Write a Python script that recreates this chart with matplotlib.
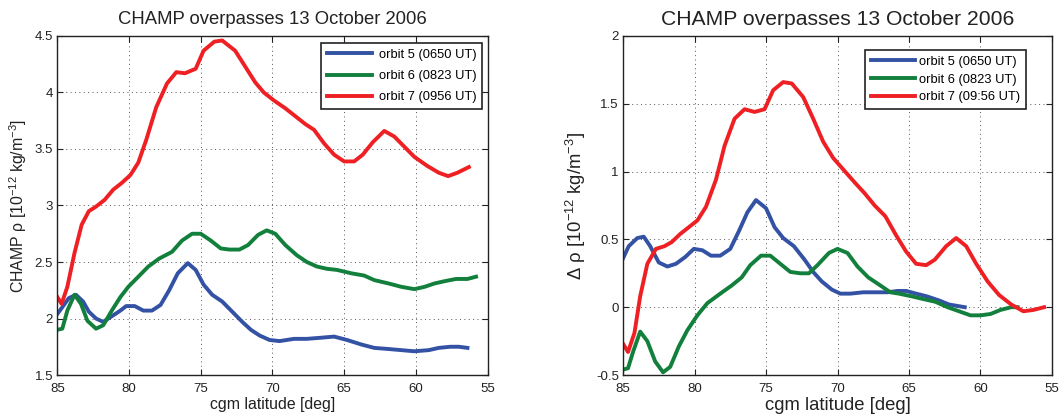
import matplotlib
matplotlib.use("Agg")
import matplotlib.pyplot as plt
import numpy as np

plt.rcParams["font.family"] = ["Liberation Sans", "DejaVu Sans"]
plt.rcParams["mathtext.fontset"] = "custom"
plt.rcParams["mathtext.rm"] = "Liberation Sans"
plt.rcParams["mathtext.default"] = "regular"
plt.rcParams["axes.unicode_minus"] = False

# ---------------------------
# DATA
# ---------------------------
# left panel: CHAMP density [1e-12 kg/m^3]
lat5_a = [85, 84.65, 84.2, 83.7, 83.2, 82.8, 82.3, 81.8, 81.2, 80.6, 80.2, 79.6, 79.0, 78.4,
          77.8, 77.2, 76.6, 75.9, 75.35, 74.8, 74.2, 73.5, 72.8, 72.1, 71.5, 70.9, 70.2, 69.5,
          68.5, 67.6, 66.6, 65.7, 64.8, 63.8, 62.9, 61.9, 61.0, 60.1, 59.1, 58.4, 57.6, 57.0, 56.4]
rho5 = [2.04, 2.10, 2.18, 2.21, 2.15, 2.06, 2.00, 1.97, 2.02, 2.07, 2.11, 2.11, 2.07, 2.07,
        2.12, 2.25, 2.40, 2.49, 2.43, 2.30, 2.21, 2.15, 2.06, 1.97, 1.90, 1.85, 1.81, 1.80,
        1.82, 1.82, 1.83, 1.84, 1.81, 1.77, 1.74, 1.73, 1.72, 1.71, 1.72, 1.74, 1.75, 1.75, 1.74]

lat6_a = [85, 84.65, 84.3, 83.8, 83.35, 82.9, 82.3, 81.8, 81.2, 80.6, 80.05, 79.35, 78.65, 77.9,
          77.0, 76.3, 75.6, 75.0, 74.3, 73.6, 73.0, 72.3, 71.7, 71.0, 70.4, 69.8, 69.1, 68.3,
          67.6, 66.9, 66.2, 65.5, 64.5, 63.6, 62.9, 61.9, 61.0, 60.1, 59.4, 58.7, 58.0, 57.2,
          56.4, 55.8]
rho6 = [1.90, 1.91, 2.07, 2.21, 2.13, 1.98, 1.91, 1.94, 2.07, 2.19, 2.28, 2.37, 2.46, 2.53,
        2.59, 2.69, 2.75, 2.75, 2.69, 2.62, 2.61, 2.61, 2.65, 2.74, 2.78, 2.75, 2.65, 2.56,
        2.50, 2.46, 2.44, 2.43, 2.40, 2.38, 2.34, 2.31, 2.28, 2.26, 2.28, 2.31, 2.33, 2.35,
        2.35, 2.37]

lat7_a = [85, 84.7, 84.3, 83.8, 83.3, 82.8, 82.3, 81.7, 81.1, 80.5, 79.9, 79.35, 78.8, 78.1,
          77.35, 76.7, 76.1, 75.35, 74.8, 74.05, 73.5, 72.6, 71.9, 71.2, 70.6, 69.9, 69.1, 68.3,
          67.7, 67.1, 66.4, 65.7, 65.0, 64.3, 63.7, 63.0, 62.2, 61.5, 60.8, 60.1, 59.2, 58.4,
          57.75, 57.1, 56.3]
rho7 = [2.19, 2.13, 2.28, 2.58, 2.83, 2.95, 2.99, 3.05, 3.14, 3.20, 3.27, 3.38, 3.58, 3.87,
        4.08, 4.18, 4.17, 4.21, 4.37, 4.45, 4.46, 4.37, 4.23, 4.09, 4.00, 3.93, 3.86, 3.78,
        3.72, 3.67, 3.55, 3.45, 3.39, 3.39, 3.45, 3.56, 3.66, 3.61, 3.52, 3.43, 3.35, 3.29,
        3.26, 3.29, 3.34]

# right panel: density difference [1e-12 kg/m^3]
lat5_b = [85, 84.6, 84.0, 83.55, 83.1, 82.5, 81.9, 81.3, 80.65, 80.05, 79.45, 78.85, 78.2, 77.5,
          76.9, 76.3, 75.7, 75.0, 74.4, 73.8, 73.05, 72.3, 71.7, 71.1, 70.4, 69.8, 69.1, 68.2,
          67.4, 66.5, 65.8, 65.2, 64.5, 63.75, 62.9, 62.2, 61.1]
drho5 = [0.36, 0.45, 0.51, 0.52, 0.45, 0.33, 0.30, 0.32, 0.37, 0.43, 0.42, 0.38, 0.38, 0.43,
         0.56, 0.70, 0.79, 0.73, 0.59, 0.51, 0.45, 0.35, 0.26, 0.19, 0.13, 0.10, 0.10, 0.11,
         0.11, 0.11, 0.12, 0.12, 0.10, 0.08, 0.05, 0.02, 0.00]

lat6_b = [85, 84.65, 84.3, 83.8, 83.3, 82.75, 82.2, 81.7, 81.1, 80.5, 79.8, 79.1, 78.2, 77.4,
          76.7, 76.1, 75.35, 74.7, 74.0, 73.3, 72.6, 72.0, 71.4, 70.6, 70.0, 69.3, 68.6, 67.85,
          67.0, 66.3, 65.7, 64.8, 64.0, 63.15, 62.3, 61.5, 60.7, 60.0, 59.3, 58.6, 57.85, 57.4]
drho6 = [-0.46, -0.45, -0.33, -0.18, -0.25, -0.40, -0.48, -0.44, -0.29, -0.17, -0.06, 0.03,
         0.10, 0.16, 0.22, 0.31, 0.38, 0.38, 0.32, 0.26, 0.25, 0.25, 0.31, 0.40, 0.43, 0.40,
         0.30, 0.22, 0.16, 0.11, 0.10, 0.08, 0.06, 0.04, 0.00, -0.03, -0.06, -0.06, -0.05,
         -0.02, 0.00, 0.00]

lat7_b = [85, 84.65, 84.2, 83.8, 83.3, 82.7, 82.1, 81.6, 81.0, 80.4, 79.8, 79.2, 78.5, 77.9,
          77.2, 76.5, 75.8, 75.1, 74.5, 73.8, 73.2, 72.4, 71.7, 71.0, 70.3, 69.55, 68.8, 68.1,
          67.4, 66.65, 65.9, 65.2, 64.5, 63.8, 63.2, 62.4, 61.7, 61.0, 60.3, 59.5, 58.7, 57.85,
          57.0, 56.3, 55.55]
drho7 = [-0.27, -0.33, -0.19, 0.08, 0.32, 0.43, 0.45, 0.48, 0.54, 0.59, 0.64, 0.74, 0.94, 1.19,
         1.39, 1.46, 1.44, 1.46, 1.60, 1.66, 1.65, 1.55, 1.39, 1.22, 1.10, 1.01, 0.92, 0.84,
         0.75, 0.67, 0.53, 0.41, 0.32, 0.31, 0.35, 0.45, 0.51, 0.45, 0.32, 0.19, 0.09, 0.02,
         -0.03, -0.02, 0.00]

labels_a = ["orbit 5 (0650 UT)", "orbit 6 (0823 UT)", "orbit 7 (0956 UT)"]
labels_b = ["orbit 5 (0650 UT)", "orbit 6 (0823 UT)", "orbit 7 (09:56 UT)"]
xticks = [85, 80, 75, 70, 65, 60, 55]
yticks_a = [1.5, 2, 2.5, 3, 3.5, 4, 4.5]
yticks_b = [-0.5, 0, 0.5, 1, 1.5, 2]

colors = ["#3352a4", "#12803c", "#ee2024"]
TITLE = "CHAMP overpasses 13 October 2006"


def fmt(v):
    return ("%g" % v)


def style_axes(ax, yticks, ylim, tick_fs):
    ax.set_xlim(85, 55)
    ax.set_ylim(*ylim)
    ax.set_xticks(xticks)
    ax.set_xticklabels([fmt(v) for v in xticks], fontsize=tick_fs)
    ax.set_yticks(yticks)
    ax.set_yticklabels([fmt(v) for v in yticks], fontsize=tick_fs)
    ax.tick_params(direction="in", top=True, right=True, length=4, width=0.8,
                   colors="#222222")
    ax.tick_params(axis="x", pad=6)
    ax.tick_params(axis="y", pad=3)
    ax.grid(True, color="#555555", linestyle=(0, (1, 3.5)), linewidth=0.7)
    for sp in ax.spines.values():
        sp.set_linewidth(1.0)
        sp.set_color("#222222")


fig = plt.figure(figsize=(10.61, 4.17), dpi=100)

# ---------------------------
# LEFT PANEL
# ---------------------------
ax1 = fig.add_axes([0.054, 0.1007, 0.4055, 0.813])
for lat, val, c, lab in zip([lat5_a, lat6_a, lat7_a], [rho5, rho6, rho7], colors, labels_a):
    ax1.plot(lat, val, color=c, lw=2.8, label=lab, solid_joinstyle="round")
style_axes(ax1, yticks_a, (1.5, 4.5), 9.5)
ax1.set_title(TITLE, fontsize=13.3, color="#222222", pad=8.5)
ax1.set_xlabel("cgm latitude [deg]", fontsize=11.4, color="#222222", labelpad=1)
ax1.set_ylabel("CHAMP ρ [10$^{-12}$ kg/m$^{-3}$]", fontsize=11.4, color="#222222", labelpad=4)
leg1 = ax1.legend(loc="upper right", bbox_to_anchor=(0.988, 0.979), fontsize=9.3,
                  handlelength=3.5, labelspacing=0.7, borderpad=0.45, handletextpad=0.5,
                  fancybox=False, framealpha=1, edgecolor="#222222", borderaxespad=0)
leg1.get_frame().set_linewidth(1.2)

# ---------------------------
# RIGHT PANEL
# ---------------------------
ax2 = fig.add_axes([0.5872, 0.1007, 0.4043, 0.813])
for lat, val, c, lab in zip([lat5_b, lat6_b, lat7_b], [drho5, drho6, drho7], colors, labels_b):
    ax2.plot(lat, val, color=c, lw=2.8, label=lab, solid_joinstyle="round")
style_axes(ax2, yticks_b, (-0.5, 2), 9.5)
ax2.set_title(TITLE, fontsize=15.2, color="#222222", pad=8)
ax2.set_xlabel("cgm latitude [deg]", fontsize=13.3, color="#222222", labelpad=1)
ax2.set_ylabel("Δ ρ [10$^{-12}$ kg/m$^{-3}$]", fontsize=13.3, color="#222222", labelpad=6)
leg2 = ax2.legend(loc="upper right", bbox_to_anchor=(0.939, 0.959), fontsize=9.3,
                  handlelength=3.4, labelspacing=0.45, borderpad=0.45, handletextpad=0.3,
                  fancybox=False, framealpha=1, edgecolor="#222222", borderaxespad=0)
leg2.get_frame().set_linewidth(1.2)

fig.savefig("out.png", dpi=100)
plt.close(fig)
